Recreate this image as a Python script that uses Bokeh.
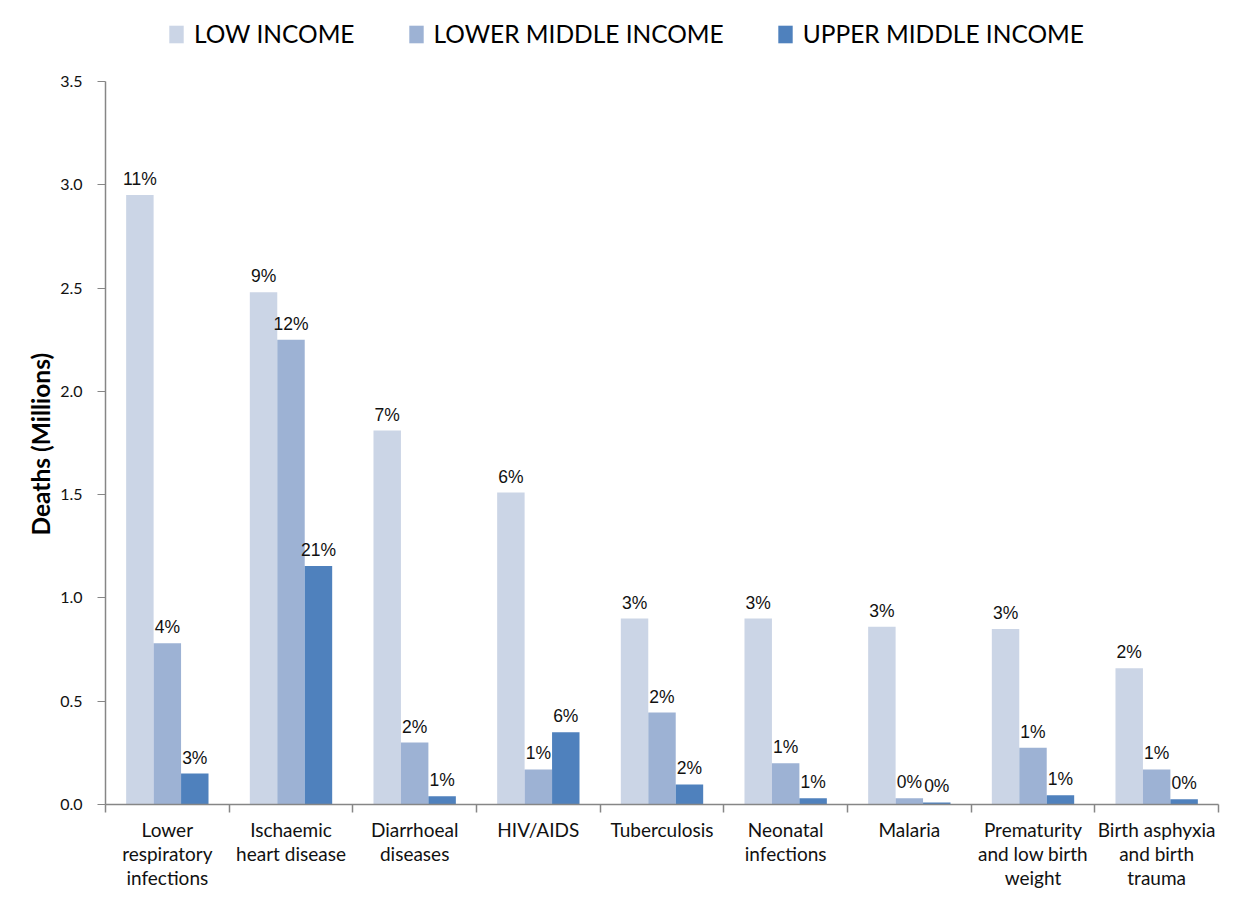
from bokeh.plotting import figure
from bokeh.models import (ColumnDataSource, FixedTicker, NumeralTickFormatter, Range1d, Legend, Title)
from bokeh.core.properties import value
from bokeh.embed import file_html
from bokeh.resources import INLINE

categories = ["Lower\nrespiratory\ninfections", "Ischaemic\nheart disease", "Diarrhoeal\ndiseases",
              "HIV/AIDS", "Tuberculosis", "Neonatal\ninfections", "Malaria",
              "Prematurity\nand low birth\nweight", "Birth asphyxia\nand birth\ntrauma"]
series = ["LOW INCOME", "LOWER MIDDLE INCOME", "UPPER MIDDLE INCOME"]
low_income = [2.95, 2.48, 1.81, 1.51, 0.90, 0.90, 0.86, 0.85, 0.66]
lower_middle = [0.78, 2.25, 0.30, 0.17, 0.445, 0.20, 0.03, 0.275, 0.17]
upper_middle = [0.15, 1.155, 0.04, 0.35, 0.097, 0.03, 0.01, 0.045, 0.025]
low_pct = [11, 9, 7, 6, 3, 3, 3, 3, 2]
lower_pct = [4, 12, 2, 1, 2, 1, 0, 1, 1]
upper_pct = [3, 21, 1, 6, 2, 1, 0, 1, 0]
y_ticks = [0.0, 0.5, 1.0, 1.5, 2.0, 2.5, 3.0, 3.5]
y_title = "Deaths (Millions)"

colors = ["#CBD5E6", "#9DB2D4", "#4F81BD"]
values = [low_income, lower_middle, upper_middle]
pcts = [low_pct, lower_pct, upper_pct]

W, H = 1237, 891
top_b, bot_b = 10, 86
left_b, right_b = 105, 19
frame_h = H - top_b - bot_b
y_end = 3.5 * frame_h / 724.0

p = figure(width=W, height=H, output_backend="svg", toolbar_location=None,
           x_range=Range1d(0, len(categories)), y_range=Range1d(0, y_end),
           min_border_left=left_b, min_border_right=right_b,
           min_border_top=top_b, min_border_bottom=bot_b)
p.outline_line_color = None
p.xgrid.visible = False
p.ygrid.visible = False
p.background_fill_color = "white"
p.border_fill_color = "white"

bw = 0.222
offsets = [-bw, 0.0, bw]
centers = [i + 0.5 for i in range(len(categories))]
renderers = []
for k in range(3):
    xs = [c + offsets[k] for c in centers]
    src = ColumnDataSource(dict(x=xs, top=values[k],
                                lab=[f"{v}%" for v in pcts[k]]))
    r = p.vbar(x="x", top="top", width=bw, bottom=0, source=src,
               fill_color=colors[k], line_color=None)
    renderers.append((series[k], [r]))
    p.text(x="x", y="top", text="lab", source=src, text_align="center",
           text_baseline="bottom", y_offset=-6, text_font_size="17.5px",
           text_font=value("Liberation Sans"), text_color="#111111")

# Y axis
ya = p.yaxis[0]
ya.bounds = (0, 3.5)
ya.ticker = FixedTicker(ticks=y_ticks)
ya.formatter = NumeralTickFormatter(format="0.0")
ya.axis_line_color = "#868686"
ya.axis_line_width = 1.5
ya.major_tick_line_color = "#868686"
ya.major_tick_in = 0
ya.major_tick_out = 8
ya.minor_tick_line_color = None
ya.major_label_text_font = "Lato"
ya.major_label_text_font_size = "16px"
ya.major_label_text_color = "#111111"
ya.major_label_standoff = 15

title = Title(text=y_title, align="left", offset=269, standoff=6,
              text_font="Lato", text_font_style="bold", text_font_size="24.5px",
              text_color="#000000")
p.add_layout(title, "left")

# X axis
xa = p.xaxis[0]
xa.ticker = FixedTicker(ticks=centers, minor_ticks=list(range(len(categories) + 1)))
xa.major_label_overrides = {c: lab for c, lab in zip(centers, categories)}
xa.axis_line_color = "#868686"
xa.axis_line_width = 1.5
xa.major_tick_line_color = None
xa.minor_tick_line_color = "#868686"
xa.minor_tick_in = 0
xa.minor_tick_out = 8
xa.minor_tick_line_width = 1.5
xa.major_label_text_font = "Lato"
xa.major_label_text_font_size = "19px"
xa.major_label_text_color = "#111111"
xa.major_label_text_line_height = 1.05
xa.major_label_standoff = 5

legend = Legend(items=renderers, orientation="horizontal", location=(62, 756),
                padding=0, margin=0, spacing=52, label_standoff=9,
                glyph_width=18, glyph_height=22,
                label_text_font="Lato", label_text_font_size="24.5px",
                label_text_color="#000000", border_line_color=None,
                background_fill_alpha=0)
p.add_layout(legend, "center")

open("out.html", "w").write(file_html(p, INLINE))
